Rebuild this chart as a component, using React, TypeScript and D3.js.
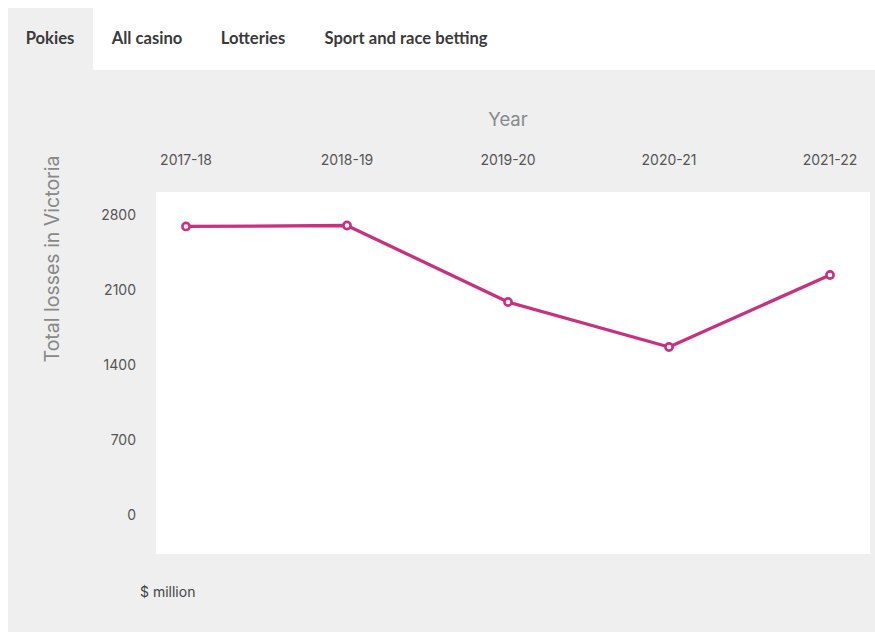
import React from "react";
import * as d3 from "d3";

const years = ["2017-18", "2018-19", "2019-20", "2020-21", "2021-22"];
const losses = [2693, 2702, 1988, 1568, 2240];
const yTicks = [0, 700, 1400, 2100, 2800];
const tabs = ["Pokies", "All casino", "Lotteries", "Sport and race betting"];
const tabX = [50, 147, 253, 406];

export default function App() {
  const W = 875, H = 632;
  const plot = { left: 156, right: 870, top: 192, bottom: 554 };
  const x = d3.scalePoint<string>().domain(years).range([186, 830]);
  const y = d3.scaleLinear().domain([0, 2800]).range([515, 215]);
  const line = d3.line<number>().x((_, i) => x(years[i])!).y((d) => y(d));
  const font = "Inter, 'Noto Sans', sans-serif";
  const color = "#c7317f";
  return (
    <svg width={W} height={H} style={{ position: "absolute", left: 0, top: 0 }}>
      <rect x={0} y={0} width={W} height={H} fill="#fff" />
      <rect x={8} y={8} width={85} height={70} fill="#efefef" />
      <rect x={8} y={70} width={W - 8} height={H - 70} fill="#efefef" />
      {tabs.map((t, i) => (
        <text key={t} x={tabX[i]} y={44} textAnchor="middle" fontFamily="Lato, sans-serif" fontWeight={700} fontSize={16.6} fill="#3a3a3a">
          {t}
        </text>
      ))}
      <rect x={plot.left} y={plot.top} width={plot.right - plot.left} height={plot.bottom - plot.top} fill="#fff" />
      <text x={508} y={126} textAnchor="middle" fontFamily={font} fontSize={18.5} fill="#888">Year</text>
      {years.map((yr) => (
        <text key={yr} x={x(yr)} y={165} textAnchor="middle" fontFamily={font} fontSize={14} fill="#555">{yr}</text>
      ))}
      {yTicks.map((t) => (
        <text key={t} x={136} y={y(t) + 5} textAnchor="end" fontFamily={font} fontSize={14} fill="#555">{t}</text>
      ))}
      <text transform="translate(59,259) rotate(-90)" textAnchor="middle" fontFamily={font} fontSize={19.5} fill="#888">
        Total losses in Victoria
      </text>
      <text x={140} y={597} fontFamily={font} fontSize={14} fill="#444">$ million</text>
      <path d={line(losses)!} fill="none" stroke={color} strokeWidth={3.3} strokeLinejoin="round" />
      {losses.map((v, i) => (
        <circle key={i} cx={x(years[i])} cy={y(v)} r={3.6} fill="#fff" stroke={color} strokeWidth={2.6} />
      ))}
    </svg>
  );
}
